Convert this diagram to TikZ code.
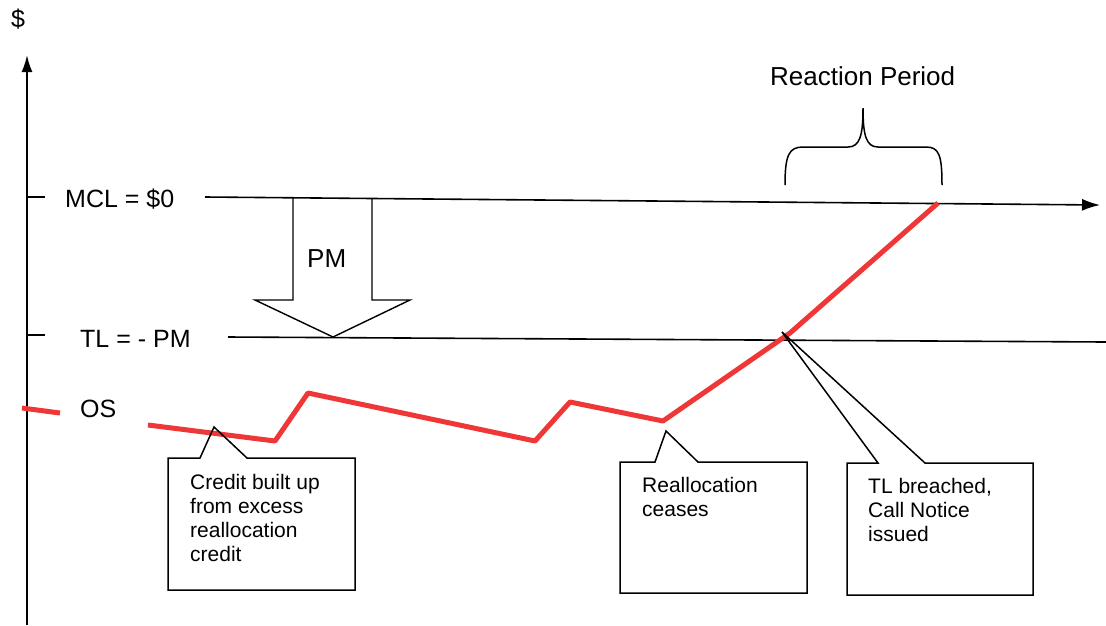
\documentclass[tikz,border=0pt]{standalone}
\usepackage{fontspec}
\setmainfont{Liberation Sans}
\usetikzlibrary{arrows.meta}
\definecolor{osred}{RGB}{240,55,55}

\begin{document}
\begin{tikzpicture}[x=1pt, y=-1pt,
    lbl/.style={inner sep=0pt, font=\fontsize{25}{30}\selectfont},
    note/.style={inner sep=0pt, align=left, anchor=north west,
      font=\fontsize{21}{24}\selectfont},
    callout/.style={line width=1.5pt, line join=miter},
    level/.style={line width=1.6pt}]
  \useasboundingbox (0,0) rectangle (1106,625);
  % axes
  \draw [line width=2pt, -{Latex[length=17pt,width=11pt]}]
    (27,625) -- (27,55);
  \node [lbl, anchor=base west] (dollar) at (11,27) {\$};
  % MCL and TL levels
  \draw [level] (27,197) -- (45,197);
  \node [lbl, anchor=base west] (mcl) at (65,207) {MCL = \$0};
  \draw [level, -{Latex[length=18pt,width=12pt]}] (205,197) -- (1100,205);
  \draw [level] (27,335) -- (45,335);
  \node [lbl, anchor=base west] (tl) at (80,347) {TL = - PM};
  \draw [level] (228,337) -- (1106,342);
  % PM arrow
  \draw [line width=1.4pt, line join=miter]
    (293,198) -- (293,300) -- (255,300) -- (333,337)
    -- (410,300) -- (372,300) -- (372,198);
  \node [lbl, anchor=base west, font=\fontsize{26}{30}\selectfont]
    (pm) at (307,267) {PM};
  % OS line
  \node [lbl, anchor=base west] (os) at (80,417) {OS};
  \draw [line width=5pt, osred] (22,408) -- (60,413);
  \draw [line width=5pt, osred, line join=round]
    (148,425) -- (275,441) -- (308,393) -- (535,441) -- (570,402)
    -- (663,421) -- (790,333) -- (938,203);
  % reaction period brace
  \draw [line width=1.5pt]
    (785,185) .. controls (785,155) and (789,147) .. (803,147) -- (848,147)
    .. controls (860,147) and (863,135) .. (863,108)
    .. controls (863,135) and (866,147) .. (878,147) -- (926,147)
    .. controls (939,147) and (942,155) .. (942,185);
  \node [lbl, anchor=base west, font=\fontsize{26}{30}\selectfont]
    (period) at (770,85) {Reaction Period};
  % callouts
  \draw [callout] (200,458) -- (214,427) -- (247,458) -- (355,458)
    -- (355,590) -- (168,590) -- (168,458) -- cycle;
  \node [note] (credit) at (190,474.5)
    {Credit built up\\from excess\\reallocation\\credit};
  \draw [callout] (655,462) -- (666,431) -- (698,462) -- (807,462)
    -- (807,593) -- (620,593) -- (620,462) -- cycle;
  \node [note] (ceases) at (642,477.5) {Reallocation\\ceases};
  \draw [callout] (878,463) -- (782,332) -- (925,463) -- (1033,463)
    -- (1033,595) -- (847,595) -- (847,463) -- cycle;
  \node [note] (breached) at (868,478.5)
    {TL breached,\\Call Notice\\issued};
\end{tikzpicture}
\end{document}
